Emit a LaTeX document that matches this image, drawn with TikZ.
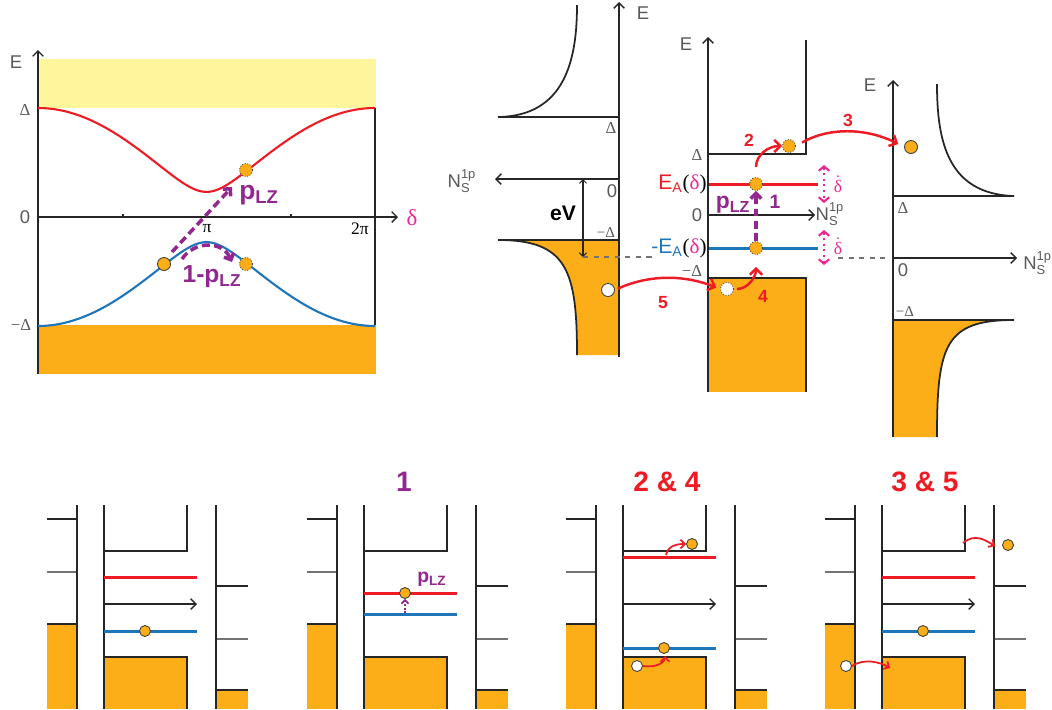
\documentclass[tikz,border=0pt]{standalone}
\usepackage{fontspec}
\usepackage{amsmath}
\setmainfont{Liberation Sans}
\newfontfamily\grk{Liberation Serif}
\usetikzlibrary{arrows.meta}
\definecolor{amber}{HTML}{FBAE17}
\definecolor{butter}{HTML}{FFF59D}
\definecolor{myred}{HTML}{ED1C24}
\definecolor{myblue}{HTML}{1F75B9}
\definecolor{plum}{HTML}{92278F}
\definecolor{mypink}{HTML}{EC2790}
\definecolor{textgray}{HTML}{595959}

\begin{document}
\begin{tikzpicture}[x=0.2mm, y=-0.2mm,
    axis/.style={line width=0.8pt, black!85},
    axtip/.style={-{Straight Barb[length=3pt,width=6pt]}},
    bandline/.style={line width=1pt, black!85},
    zeroline/.style={line width=0.8pt, black!55},
    redline/.style={line width=1.7pt, myred},
    blueline/.style={line width=1.7pt, myblue},
    hop/.style={line width=1.4pt, myred, -{Straight Barb[length=3.5pt,width=7pt]}},
    smallhop/.style={line width=1pt, myred, -{Straight Barb[length=2.5pt,width=5pt]}},
    lz/.style={line width=2pt, plum, dash pattern=on 4.5pt off 2.5pt, -{Straight Barb[length=3pt,width=6pt]}},
    rate/.style={line width=1.2pt, mypink, dotted, {Straight Barb[length=2.5pt,width=6pt]}-{Straight Barb[length=2.5pt,width=6pt]}},
    dot/.style={circle, draw=black!75, fill=amber, inner sep=0pt, minimum size=2.6mm, line width=0.5pt},
    ghost/.style={dot, densely dotted},
    hole/.style={dot, fill=white},
    smalldot/.style={dot, minimum size=2.2mm},
    lbl/.style={text=textgray, inner sep=0pt, font=\fontsize{10.5}{12}\selectfont},
    gap/.style={text=textgray, inner sep=0pt, font=\grk\fontsize{9.5}{11}\selectfont},
    num/.style={text=myred, inner sep=0pt, font=\bfseries\fontsize{10}{12}\selectfont},
    heading/.style={inner sep=0pt, font=\bfseries\fontsize{16}{18}\selectfont},
]
    \useasboundingbox (0,0) rectangle (1052,709);

    % Andreev levels vs phase
        %% continua
        \fill [butter] (38,59) rectangle (376,108);
        \fill [amber] (38,325) rectangle (376,374);
        \draw [axis] (375,108) -- (375,325);
        \draw [axis] (123,217) -- (123,214) (291,217) -- (291,214);
        \draw [axis, axtip] (38,374) -- (38,50);
        \draw [axis, axtip] (38,217) -- (398,217);

        %% bound states
        \draw [redline, line width=1.2pt, smooth, samples=73, domain=0:360, variable=\t]
            plot ({38 + 337*(\t/360)}, {217 - 109*sqrt(1 - 0.947*(sin(\t/2))^2)});
        \draw [blueline, line width=1.2pt, smooth, samples=73, domain=0:360, variable=\t]
            plot ({38 + 337*(\t/360)}, {217 + 109*sqrt(1 - 0.947*(sin(\t/2))^2)});

        %% Landau-Zener
        \node [dot] (start) at (164,264) {};
        \node [ghost] (stay) at (246,264) {};
        \node [ghost] (jump) at (246,170) {};
        \coordinate (lzfrom) at (172,252);
        \coordinate (lzto) at (232,187);
        \coordinate (stayfrom) at (182,259);
        \coordinate (stayto) at (232,262);
        \draw [lz] (lzfrom) -- (lzto);
        \draw [lz] (stayfrom) .. controls (194,241) and (222,240) .. (stayto);

        \node [lbl] (Eleft) at (16,62) {E};
        \node [gap] (gapup) at (25,110) {Δ};
        \node [lbl] (zeroleft) at (25,217) {0};
        \node [gap] (gapdown) at (21,325) {−Δ};
        \node [inner sep=0pt, font=\grk\fontsize{10}{12}\selectfont] (pi) at (207,229) {π};
        \node [inner sep=0pt, font=\grk\fontsize{10}{12}\selectfont] (twopi) at (360,229) {2π};
        \node [text=mypink, inner sep=0pt, font=\grk\fontsize{13}{14}\selectfont] (delta) at (412,218) {δ};
        \node [text=plum, inner sep=0pt, anchor=west, font=\bfseries\fontsize{15}{16}\selectfont] (plz) at (239,195) {p\textsubscript{LZ}};
        \node [text=plum, inner sep=0pt, font=\bfseries\fontsize{14}{16}\selectfont] (oneminus) at (212,277) {1-p\textsubscript{LZ}};

    % Tunnel junction
        %% left lead
        \fill [amber] (498,240) .. controls (567,240) and (577,270) .. (577,355) -- (619,355) -- (619,240) -- cycle;
        \draw [bandline] (577,355) .. controls (577,270) and (567,240) .. (498,240) -- (619,240);
        \draw [bandline] (577,5) .. controls (577,60) and (565,116) .. (498,117) -- (619,117);
        \draw [axis, axtip] (619,179) -- (495,179);
        \draw [axis, axtip] (619,357) -- (619,2);

        \coordinate (evtop) at (583,179);
        \coordinate (evbot) at (583,257);
        \draw [axis, line width=0.6pt, {Straight Barb[length=2pt,width=4pt]}-{Straight Barb[length=2pt,width=4pt]}] (evtop) -- (evbot);
        \draw [zeroline, dashed, line width=0.6pt] (evbot) -- (653,257);
        \node [font=\bfseries\fontsize{12}{14}\selectfont, inner sep=0pt] (eV) at (563,213) {eV};

        \node [lbl] (Elead) at (643,13) {E};
        \node [lbl] (Nlead) at (462,181) {$\text{N}_{\text{S}}^{\text{1p}}$};
        \node [gap] (gaplead) at (611,128) {Δ};
        \node [lbl] (zerolead) at (612,191) {0};
        \node [gap, font=\grk\fontsize{8.5}{10}\selectfont] (mgaplead) at (606,233) {−Δ};

        %% quantum dot
        \fill [amber] (708,278) rectangle (806,392);
        \draw [bandline] (708,278) -- (806,278) -- (806,392);
        \draw [bandline] (708,154) -- (806,154) -- (806,40);
        \draw [redline] (708,184) -- (818,184);
        \draw [blueline] (708,248) -- (818,248);
        \draw [axis, axtip] (708,215) -- (815,215);
        \draw [axis, axtip] (708,392) -- (708,37);

        \node [lbl] (Edot) at (686,44) {E};
        \node [gap] (gapdot) at (697,155) {Δ};
        \node [lbl] (zerodot) at (697,215) {0};
        \node [gap] (mgapdot) at (692,271) {−Δ};
        \node [inner sep=0pt, anchor=east, font=\fontsize{12}{14}\selectfont] (EA) at (707,184)
            {\textcolor{myred}{E\textsubscript{A}}{\grk(\textcolor{mypink}{δ})}};
        \node [inner sep=0pt, anchor=east, font=\fontsize{12}{14}\selectfont] (mEA) at (707,248)
            {\textcolor{myblue}{-E\textsubscript{A}}{\grk(\textcolor{mypink}{δ})}};
        \node [lbl] (Ndot) at (830,214) {$\text{N}_{\text{S}}^{\text{1p}}$};

        \node [ghost] (up) at (756,184) {};
        \node [ghost] (down) at (756,248) {};
        \node [ghost] (out) at (789,146) {};
        \node [ghost, fill=white] (in) at (727,289) {};

        \draw [lz] (down.north) -- (up.south);
        \node [text=plum, inner sep=0pt, font=\bfseries\fontsize{13}{15}\selectfont] (plzdot) at (733,205) {p\textsubscript{LZ}};
        \node [text=plum, inner sep=0pt, font=\bfseries\fontsize{11}{13}\selectfont] (one) at (775,202) {1};

        \coordinate (rateAtop) at (824,165);
        \coordinate (rateAbot) at (824,203);
        \coordinate (rateBtop) at (824,230);
        \coordinate (rateBbot) at (824,265);
        \draw [rate] (rateAtop) -- (rateAbot);
        \draw [rate] (rateBtop) -- (rateBbot);
        \node [text=mypink, inner sep=0pt, font=\grk\fontsize{10}{12}\selectfont] (rateA) at (838,184) {$\dot{\text{δ}}$};
        \node [text=mypink, inner sep=0pt, font=\grk\fontsize{10}{12}\selectfont] (rateB) at (838,246) {$\dot{\text{δ}}$};

        %% right lead
        \fill [amber] (1014,320) .. controls (945,320) and (937,345) .. (937,437) -- (893,437) -- (893,320) -- cycle;
        \draw [bandline] (937,437) .. controls (937,345) and (945,320) .. (1014,320) -- (893,320);
        \draw [bandline] (937,84) .. controls (937,140) and (947,194) .. (1014,196) -- (893,196);
        \draw [axis, axtip] (893,258) -- (1017,258);
        \draw [axis, axtip] (893,437) -- (893,80);
        \draw [zeroline, dashed, line width=0.6pt] (838,258) -- (888,258);

        \node [lbl] (Eright) at (870,85) {E};
        \node [gap] (gapright) at (903,208) {Δ};
        \node [lbl] (zeroright) at (903,270) {0};
        \node [gap, font=\grk\fontsize{8.5}{10}\selectfont] (mgapright) at (905,312) {−Δ};
        \node [lbl, anchor=west] (Nright) at (1023,263) {$\text{N}_{\text{S}}^{\text{1p}}$};

        \node [dot] (gone) at (911,147) {};
        \node [hole] (left) at (608,290) {};

        %% processes
        \draw [hop, shorten <=2mm] (up.north) .. controls +(0,-22) and +(-14,0) .. (out.west);
        \draw [hop, shorten <=1.4mm, shorten >=1.3mm] (out.east) .. controls +(35,-20) and +(-35,-18) .. (gone.west);
        \draw [hop, shorten <=0.6mm] (in.east) .. controls +(14,0) and +(0,10) .. ([yshift=-2.4mm]down.south);
        \draw [hop, shorten <=0.6mm, shorten >=0.8mm] (left.east) .. controls +(35,-16) and +(-35,-14) .. (in.west);
        \node [num] (two) at (749,140) {2};
        \node [num] (three) at (848,120) {3};
        \node [num] (four) at (763,296) {4};
        \node [num] (five) at (663,303) {5};

    % Snapshots
    \foreach \s in {0,260,519,778} {
        \begin{scope}[shift={(\s,0)}]
            \fill [amber] (47,624) rectangle (77,709);
            \draw [bandline] (47,624) -- (77,624);
            \draw [bandline] (47,519) -- (77,519);
            \draw [zeroline] (47,572) -- (77,572);
            \draw [axis] (77,505) -- (77,709);
            \fill [amber] (104,657) rectangle (187,709);
            \draw [bandline] (104,657) -- (187,657) -- (187,709);
            \draw [bandline] (104,551) -- (187,551) -- (187,505);
            \draw [axis] (104,505) -- (104,709);
            \fill [amber] (216,690) rectangle (248,709);
            \draw [bandline] (216,690) -- (248,690);
            \draw [bandline] (216,586) -- (248,586);
            \draw [zeroline] (216,639) -- (248,639);
            \draw [axis] (216,505) -- (216,709);
        \end{scope}
    }

        %% before
        \begin{scope}[shift={(0,0)}]
            \draw [redline] (104,577) -- (197,577);
            \draw [axis, axtip] (104,604) -- (197,604);
            \draw [blueline] (104,631) -- (197,631);
            \node [smalldot] (snapAdot) at (145,631) {};
        \end{scope}

        %% step 1
        \begin{scope}[shift={(260,0)}]
            \draw [redline] (104,593) -- (197,593);
            \draw [blueline] (104,614) -- (197,614);
            \node [smalldot] (snapBdot) at (145,593) {};
            \coordinate (snapBfrom) at (145,613);
            \draw [plum, line width=1pt, densely dotted, -{Straight Barb[length=2pt,width=4pt]}] (snapBfrom) -- (snapBdot.south);
            \node [text=plum, inner sep=0pt, font=\bfseries\fontsize{11}{13}\selectfont] (snapBplz) at (172,579) {p\textsubscript{LZ}};
            \node [heading, text=plum] (snapBtitle) at (144,482) {1};
        \end{scope}

        %% steps 2 and 4
        \begin{scope}[shift={(519,0)}]
            \draw [redline] (104,557) -- (197,557);
            \draw [axis, axtip] (104,604) -- (197,604);
            \draw [blueline] (104,648) -- (197,648);
            \node [smalldot] (snapCdot) at (145,648) {};
            \node [smalldot] (snapCout) at (173,544) {};
            \node [smalldot, fill=white] (snapChole) at (118,666) {};
            \coordinate (snapCfrom) at (147,555);
            \coordinate (snapCto) at (146,656);
            \draw [smallhop] (snapCfrom) .. controls +(2,-10) and +(-8,0) .. (snapCout.west);
            \draw [smallhop] (snapChole.east) .. controls +(14,2) and +(0,6) .. (snapCto);
            \node [heading, text=myred] (snapCtitle) at (148,482) {2 \& 4};
        \end{scope}

        %% steps 3 and 5
        \begin{scope}[shift={(778,0)}]
            \draw [redline] (104,577) -- (197,577);
            \draw [axis, axtip] (104,604) -- (197,604);
            \draw [blueline] (104,631) -- (197,631);
            \node [smalldot] (snapDdot) at (145,631) {};
            \node [smalldot] (snapDout) at (230,545) {};
            \node [smalldot, fill=white] (snapDhole) at (68,666) {};
            \coordinate (snapDfrom) at (185,543);
            \coordinate (snapDto) at (217,546);
            \coordinate (snapDin) at (112,668);
            \draw [smallhop] (snapDfrom) .. controls +(12,-10) and +(-10,-6) .. (snapDto);
            \draw [smallhop] (snapDhole.east) .. controls +(12,-8) and +(-10,-6) .. (snapDin);
            \node [heading, text=myred] (snapDtitle) at (147,482) {3 \& 5};
        \end{scope}

\end{tikzpicture}
\end{document}
